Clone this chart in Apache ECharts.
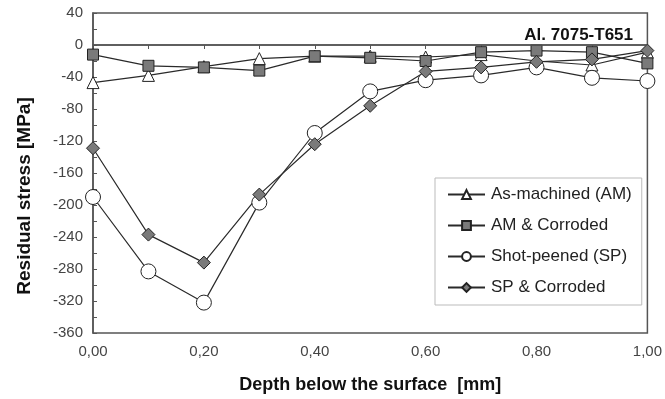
<!DOCTYPE html>
<html>
<head>
<meta charset="utf-8">
<script src="https://cdn.jsdelivr.net/npm/echarts@6/dist/echarts.min.js"></script>
<style>
  html, body { margin: 0; padding: 0; background: #fff; }
  #chart { width: 665px; height: 399px; }
</style>
</head>
<body>
<div id="chart"></div>
<script>
// depth [mm]
const depth = [0.0, 0.1, 0.2, 0.3, 0.4, 0.5, 0.6, 0.7, 0.8, 0.9, 1.0]
// residual stress [MPa]
const asMachined = [-47, -38, -27, -17, -14, -14, -15, -12, -20, -25, -9]
const amCorroded = [-12, -26, -28, -32, -14, -16, -20, -9, -7, -9, -23]
const shotPeened = [-190, -283, -322, -197, -110, -58, -44, -38, -28, -41, -45]
const spCorroded = [-129, -237, -272, -187, -124, -76, -33, -28, -21, -18, -7]

const seriesNames = ["As-machined (AM)", "AM & Corroded", "Shot-peened (SP)", "SP & Corroded"]
const font = "Arial, 'Liberation Sans', sans-serif"

const chart = echarts.init(document.getElementById("chart"))

const pts = (ys) => depth.map((x, i) => [x, ys[i]])

const lineSeries = (name, ys, symbol, size, fill) => ({
  name,
  type: "line",
  data: pts(ys),
  symbol,
  symbolSize: size,
  showAllSymbol: true,
  lineStyle: { color: "#2a2a2a", width: 1.2 },
  itemStyle: { color: fill, borderColor: "#222", borderWidth: 1 },
  emphasis: { disabled: true },
  animation: false,
})

const series = [
  lineSeries(seriesNames[0], asMachined, "triangle", 12, "#fff"),
  lineSeries(seriesNames[1], amCorroded, "rect", 11, "#7a7a7a"),
  lineSeries(seriesNames[2], shotPeened, "circle", 15, "#fff"),
  lineSeries(seriesNames[3], spCorroded, "diamond", 13, "#7a7a7a"),
]

// zero line
series[0].markLine = {
  silent: true,
  symbol: "none",
  label: { show: false },
  lineStyle: { color: "#555", width: 1.5, type: "solid" },
  data: [{ yAxis: 0 }],
}

chart.setOption({
  animation: false,
  textStyle: { fontFamily: font },
  title: {
    text: "Al. 7075-T651",
    right: 27,
    top: 22,
    textStyle: { fontFamily: font, fontSize: 17, fontWeight: "bold", color: "#111" },
  },
  legend: {
    orient: "vertical",
    left: 435,
    top: 178,
    padding: [8, 10, 9, 12],
    itemGap: 14,
    itemWidth: 37,
    itemHeight: 11,
    backgroundColor: "#fff",
    borderColor: "#bbb",
    borderWidth: 1,
    textStyle: { fontFamily: font, fontSize: 17, color: "#222", padding: [0, 0, 0, 1] },
    data: seriesNames,
  },
  graphic: [
    {
      type: "text",
      x: 25,
      y: 196,
      rotation: Math.PI / 2,
      style: {
        text: "Residual stress [MPa]",
        font: "bold 19px Arial, 'Liberation Sans', sans-serif",
        fill: "#111",
        align: "center",
        verticalAlign: "middle",
      },
    },
  ],
  grid: {
    left: 93,
    right: 13,
    top: 13,
    bottom: 66,
    show: true,
    borderColor: "#555",
    borderWidth: 1.5,
  },
  xAxis: {
    type: "value",
    min: 0,
    max: 1,
    interval: 0.1,
    name: "Depth below the surface  [mm]",
    nameLocation: "middle",
    nameGap: 43,
    nameTextStyle: { fontFamily: font, fontSize: 18, fontWeight: "bold", color: "#111" },
    axisLine: { lineStyle: { color: "#555", width: 1.5 } },
    axisTick: { show: true, inside: false, length: 4, lineStyle: { color: "#555" } },
    axisLabel: {
      color: "#444",
      fontSize: 15,
      margin: 11,
      formatter: (v) => (Math.round(v * 10) % 2 === 0 ? v.toFixed(2).replace(".", ",") : ""),
    },
    splitLine: { show: false },
  },
  yAxis: {
    type: "value",
    min: -360,
    max: 40,
    interval: 20,
    axisLine: { show: true, lineStyle: { color: "#555", width: 1.5 } },
    axisTick: { show: true, inside: true, length: 4, lineStyle: { color: "#555" } },
    axisLabel: {
      color: "#444",
      fontSize: 15,
      margin: 10,
      formatter: (v) => (v % 40 === 0 ? String(v) : ""),
    },
    splitLine: { show: false },
  },
  series,
})
</script>
</body>
</html>
